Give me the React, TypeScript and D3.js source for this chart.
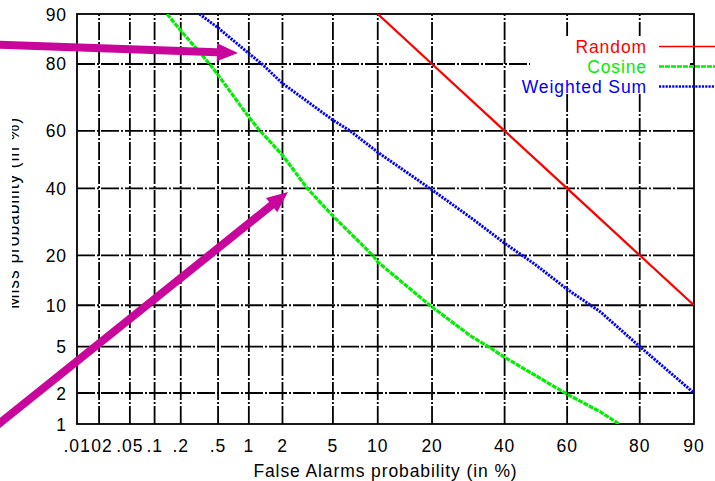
import React from "react";
import * as d3 from "d3";

// ---------- data (percent) ----------
const xTickValues = [0.01, 0.02, 0.05, 0.1, 0.2, 0.5, 1, 2, 5, 10, 20, 40, 60, 80, 90];
const xTickLabels = [".01", ".02", ".05", ".1", ".2", ".5", "1", "2", "5", "10", "20", "40", "60", "80", "90"];
const yTickValues = [1, 2, 5, 10, 20, 40, 60, 80, 90];
const yTickLabels = ["1", "2", "5", "10", "20", "40", "60", "80", "90"];

const randomPfa = [10, 20, 40, 60, 80, 90];
const randomMiss = [90, 80, 60, 40, 20, 10];

const cosinePfa = [0.14, 0.2, 0.41, 0.5, 1, 1.27, 2, 3.2, 5, 9.3, 10, 19.5, 30, 35, 40, 60, 70, 75];
const cosineMiss = [90, 87.2, 80, 77.2, 64.6, 60, 51.6, 40, 31, 20, 18.4, 10, 6, 5, 4.1, 1.95, 1.32, 1];

const wsumPfa = [0.32, 0.5, 1, 1.32, 2, 5, 6.6, 10, 20, 30, 40, 50, 60, 70, 80, 90];
const wsumMiss = [90, 87.7, 82.5, 80, 74.9, 63.6, 60, 52.6, 39.5, 30.4, 23.1, 17.7, 12.7, 9.0, 5, 2];

const seriesNames = ["Random", "Cosine", "Weighted Sum"];
const seriesColors = ["#ff0000", "#00ee00", "#0000ff"];

// annotation arrows (pixel space overlay)
const arrowStarts = [[-10, 44.5], [-20, 439]];
const arrowTips = [[238, 53], [288, 192]];

// ---------- helpers ----------
function probit(p: number): number {
  const a = [-3.969683028665376e1, 2.209460984245205e2, -2.759285104469687e2, 1.38357751867269e2, -3.066479806614716e1, 2.506628277459239];
  const b = [-5.447609879822406e1, 1.615858368580409e2, -1.556989798598866e2, 6.680131188771972e1, -1.328068155288572e1];
  const c = [-7.784894002430293e-3, -3.223964580411365e-1, -2.400758277161838, -2.549732539343734, 4.374664141464968, 2.938163982698783];
  const d = [7.784695709041462e-3, 3.224671290700398e-1, 2.445134137142996, 3.754408661907416];
  const plow = 0.02425, phigh = 1 - plow;
  if (p < plow) {
    const q = Math.sqrt(-2 * Math.log(p));
    return (((((c[0] * q + c[1]) * q + c[2]) * q + c[3]) * q + c[4]) * q + c[5]) / ((((d[0] * q + d[1]) * q + d[2]) * q + d[3]) * q + 1);
  }
  if (p <= phigh) {
    const q = p - 0.5, r = q * q;
    return ((((((a[0] * r + a[1]) * r + a[2]) * r + a[3]) * r + a[4]) * r + a[5]) * q) / (((((b[0] * r + b[1]) * r + b[2]) * r + b[3]) * r + b[4]) * r + 1);
  }
  const q = Math.sqrt(-2 * Math.log(1 - p));
  return -(((((c[0] * q + c[1]) * q + c[2]) * q + c[3]) * q + c[4]) * q + c[5]) / ((((d[0] * q + d[1]) * q + d[2]) * q + d[3]) * q + 1);
}

function arrowPath(s: number[], t: number[], shaftHalf: number, headLen: number, headHalf: number) {
  const dx = t[0] - s[0], dy = t[1] - s[1];
  const L = Math.hypot(dx, dy);
  const ux = dx / L, uy = dy / L;
  const nx = -uy, ny = ux;
  const bx = t[0] - ux * headLen, by = t[1] - uy * headLen;
  const pts = [
    [s[0] + nx * shaftHalf, s[1] + ny * shaftHalf],
    [bx + nx * shaftHalf, by + ny * shaftHalf],
    [bx + nx * headHalf, by + ny * headHalf],
    [t[0], t[1]],
    [bx - nx * headHalf, by - ny * headHalf],
    [bx - nx * shaftHalf, by - ny * shaftHalf],
    [s[0] - nx * shaftHalf, s[1] - ny * shaftHalf],
  ];
  return "M" + pts.map((p) => p.join(",")).join("L") + "Z";
}

const W = 715, H = 481;
const left = 77, right = 694, top = 14, bottom = 424;
const FONT = "'Liberation Sans', Arial, Helvetica, sans-serif";

export default function App() {
  const x = d3.scaleLinear().domain([probit(0.0001), probit(0.9)]).range([left, right]);
  const y = d3.scaleLinear().domain([probit(0.01), probit(0.9)]).range([bottom, top]);
  const xp = (v: number) => x(probit(v / 100));
  const yp = (v: number) => y(probit(v / 100));

  const line = d3
    .line<[number, number]>()
    .x((d) => xp(d[0]))
    .y((d) => yp(d[1]));

  const series = [
    { pfa: randomPfa, miss: randomMiss, dash: undefined as string | undefined, w: 2.3, lw: 1.6 },
    { pfa: cosinePfa, miss: cosineMiss, dash: "5,1", w: 3.2, lw: 2.6 },
    { pfa: wsumPfa, miss: wsumMiss, dash: "2.2,1.1", w: 3, lw: 2.6 },
  ];

  const gridDash = "18,2,2,2";
  const textStyle = { fontFamily: FONT, fontSize: 17.5, letterSpacing: 0.9 } as React.CSSProperties;

  return (
    <svg width={W} height={H} style={{ position: "absolute", left: 0, top: 0, background: "#fff" }}>
      <defs>
        <clipPath id="ylabclip">
          <rect x={12} y={0} width={40} height={H} />
        </clipPath>
        <clipPath id="plotclip">
          <rect x={left} y={top} width={right - left} height={bottom - top} />
        </clipPath>
      </defs>
      <rect x={0} y={0} width={W} height={H} fill="#fff" />

      {/* grid */}
      <g stroke="#000" strokeWidth={1.8} strokeDasharray={gridDash}>
        {xTickValues.slice(1, -1).map((v, i) => (
          <line key={"gx" + i} x1={xp(v)} x2={xp(v)} y1={bottom} y2={top} />
        ))}
        {yTickValues.slice(1, -1).map((v, i) => (
          <line key={"gy" + i} x1={left} x2={right} y1={yp(v)} y2={yp(v)} />
        ))}
      </g>

      {/* legend background */}
      <rect x={530} y={36} width={160} height={57} fill="#fff" />

      {/* border */}
      <rect x={left} y={top} width={right - left} height={bottom - top} fill="none" stroke="#000" strokeWidth={1.8} />

      {/* curves */}
      <g clipPath="url(#plotclip)">
        {series.map((s, i) => (
          <path
            key={"s" + i}
            d={line(s.pfa.map((p, j) => [p, s.miss[j]] as [number, number])) || ""}
            fill="none"
            stroke={seriesColors[i]}
            strokeWidth={s.w}
            strokeDasharray={s.dash}
          />
        ))}
      </g>

      {/* legend */}
      {seriesNames.map((n, i) => (
        <g key={"lg" + i}>
          <text x={647} y={53 + i * 20} textAnchor="end" fill={seriesColors[i]} style={textStyle}>
            {n}
          </text>
          <line
            x1={659}
            x2={720}
            y1={46.5 + i * 20}
            y2={46.5 + i * 20}
            stroke={seriesColors[i]}
            strokeWidth={series[i].lw}
            strokeDasharray={series[i].dash}
          />
        </g>
      ))}

      {/* tick labels */}
      {xTickValues.map((v, i) => (
        <text key={"xt" + i} x={xp(v)} y={452} textAnchor="middle" style={textStyle}>
          {xTickLabels[i]}
        </text>
      ))}
      {yTickValues.map((v, i) => (
        <text key={"yt" + i} x={67} y={yp(v) + 6.5} textAnchor="end" style={textStyle}>
          {yTickLabels[i]}
        </text>
      ))}

      {/* axis titles */}
      <text x={(left + right) / 2} y={477} textAnchor="middle" style={textStyle}>
        False Alarms probability (in %)
      </text>
      <g clipPath="url(#ylabclip)">
        <text transform={`translate(19,213) rotate(-90)`} textAnchor="middle" style={textStyle}>
          Miss probability (in %)
        </text>
      </g>

      {/* annotation arrows */}
      {arrowStarts.map((s, i) => (
        <path key={"ar" + i} d={arrowPath(s, arrowTips[i], 4, 21, 9)} fill="#c8069b" />
      ))}
    </svg>
  );
}
